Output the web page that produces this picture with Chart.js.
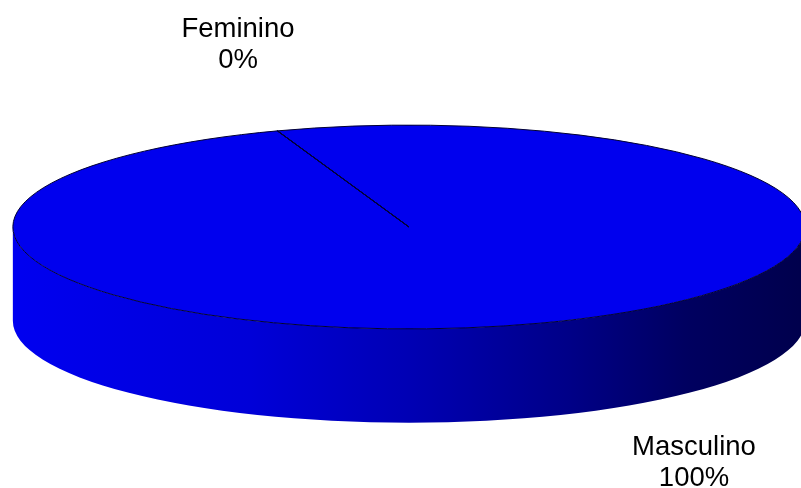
<!DOCTYPE html>
<html>
<head>
<meta charset="utf-8">
<title>Sexo</title>
<script src="https://cdn.jsdelivr.net/npm/chart.js@4.4.1/dist/chart.umd.min.js"></script>
<style>
  html, body { margin: 0; padding: 0; background: #fff; }
  canvas { display: block; }
</style>
</head>
<body>
<canvas id="myChart" width="801" height="488"></canvas>
<script>
const labels = ["Masculino", "Feminino"];
const values = [100, 0];
const colors = ["#0000ee", "#ff00ff"];

// where each label's first line sits (text baseline, centred)
const labelSpots = [
  [694, 455],
  [238, 37],
];

const chartCtx = document.getElementById("myChart");

// flattens the pie into a tilted disc and draws the rim under it
const pie3d = {
  id: "pie3d",
  beforeDatasetsDraw(chart, args, opts) {
    const ctx = chart.ctx;
    const arcs = chart.getDatasetMeta(0).data;
    if (!arcs.length) return false;
    const cx = arcs[0].x;
    const cy = arcs[0].y;
    const r = arcs[0].outerRadius;
    const rx = r * opts.scaleX;
    const ry = r * opts.scaleY;
    const depth = r * opts.depth;
    const TAU = Math.PI * 2;

    // rim (only the front half shows)
    const grad = ctx.createLinearGradient(cx - rx, 0, cx + rx, 0);
    grad.addColorStop(0, "#0000f0");
    grad.addColorStop(0.3, "#0000d8");
    grad.addColorStop(0.5, "#0000b4");
    grad.addColorStop(0.7, "#000088");
    grad.addColorStop(0.85, "#000060");
    grad.addColorStop(1, "#00004c");

    arcs.forEach((arc) => {
      const start = arc.startAngle;
      const end = arc.endAngle;
      for (let k = -1; k <= 2; k++) {
        const s = Math.max(start, TAU * k);
        const e = Math.min(end, TAU * k + Math.PI);
        if (s >= e) continue;
        ctx.save();
        ctx.beginPath();
        ctx.ellipse(cx, cy, rx, ry, 0, s, e);
        ctx.ellipse(cx, cy + depth, rx, ry, 0, e, s, true);
        ctx.closePath();
        ctx.fillStyle = grad;
        ctx.fill();
        ctx.restore();
      }
    });

    // top face
    arcs.forEach((arc) => {
      ctx.save();
      ctx.beginPath();
      ctx.moveTo(cx, cy);
      ctx.ellipse(cx, cy, rx, ry, 0, arc.startAngle, arc.endAngle);
      ctx.closePath();
      ctx.fillStyle = arc.options.backgroundColor;
      if (arc.endAngle - arc.startAngle > 0) ctx.fill();
      ctx.lineWidth = arc.options.borderWidth;
      ctx.strokeStyle = arc.options.borderColor;
      ctx.stroke();
      ctx.restore();
    });

    // labels
    const total = values.reduce((a, b) => a + b, 0);
    ctx.save();
    ctx.fillStyle = "#000";
    ctx.font = opts.font;
    ctx.textAlign = "center";
    ctx.textBaseline = "alphabetic";
    labels.forEach((name, i) => {
      const [lx, ly] = labelSpots[i];
      const pct = Math.round((values[i] / total) * 100);
      ctx.fillText(name, lx, ly);
      ctx.fillText(`${pct}%`, lx, ly + opts.lineHeight);
    });
    ctx.restore();

    return false;
  },
};

const myChart = new Chart(chartCtx, {
  type: "pie",
  data: {
    labels: labels,
    datasets: [
      {
        data: values,
        backgroundColor: colors,
        borderColor: "#000033",
        borderWidth: 1,
      },
    ],
  },
  options: {
    responsive: false,
    animation: false,
    rotation: -19.4,
    layout: {
      padding: { left: 17, right: 0, top: 0, bottom: 34 },
    },
    plugins: {
      legend: { display: false },
      tooltip: { enabled: false },
      pie3d: {
        scaleX: 1.749,
        scaleY: 0.45,
        depth: 0.414,
        font: '27.5px "Liberation Sans", Arial, sans-serif',
        lineHeight: 31,
      },
    },
  },
  plugins: [pie3d],
});
</script>
</body>
</html>
